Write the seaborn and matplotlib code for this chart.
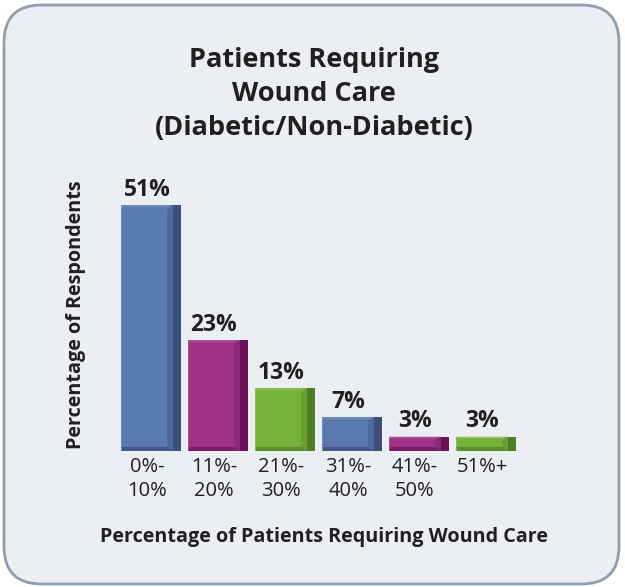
import matplotlib
matplotlib.use("Agg")
import matplotlib.pyplot as plt
from matplotlib.patches import FancyBboxPatch, Polygon, Rectangle
import seaborn as sns
import pandas as pd

# Chart data
categories = ["0%-\n10%", "11%-\n20%", "21%-\n30%", "31%-\n40%", "41%-\n50%", "51%+"]
values = [51, 23, 13, 7, 3, 3]
value_labels = ["51%", "23%", "13%", "7%", "3%", "3%"]

title = "Patients Requiring\nWound Care\n(Diabetic/Non-Diabetic)"
ylabel = "Percentage of Respondents"
xlabel = "Percentage of Patients Requiring Wound Care"

# Face / bevel / side / highlight / shadow shades for the three bar colours
palette = {
    "blue": ("#5A79AE", "#4D6A9E", "#3A5078", "#7E98C4", "#44598A"),
    "magenta": ("#A03285", "#8E2977", "#6A1156", "#BA5AA2", "#7A1D64"),
    "green": ("#77B23B", "#68A033", "#4C7F24", "#98C865", "#5A8E2A"),
}
color_cycle = ["blue", "magenta", "green", "blue", "magenta", "green"]

sns.set_theme(style="white")
plt.rcParams["font.family"] = ["Open Sans", "DejaVu Sans"]
TEXT = "#231F20"
BG = "#EBEFF3"

W, H = 625, 587
fig = plt.figure(figsize=(W / 100, H / 100), dpi=100, facecolor="white")

# Rounded card behind the chart
card = FancyBboxPatch((4 / W, 3 / H), 615 / W, 579 / H,
                      boxstyle="round,pad=0,rounding_size=0.06",
                      transform=fig.transFigure, facecolor=BG,
                      edgecolor="#8E9EAD", linewidth=2.0,
                      mutation_aspect=W / H, zorder=-10)
fig.patches.append(card)

# Axes: 67 px per category, baseline at y=451 px, 4.82 px per percent
step = 67
left_px = 147 - step / 2
base_px = 451
ymax = 60
ax_h = ymax * 4.82
ax = fig.add_axes([left_px / W, (H - base_px) / H, 6 * step / W, ax_h / H])
ax.set_facecolor("none")

df = pd.DataFrame({"cat": categories, "val": values, "col": color_cycle})
front_w = 52 / step
side_w = 8 / step
sns.barplot(data=df, x="cat", y="val", hue="col", dodge=False,
            palette={k: v[0] for k, v in palette.items()},
            width=front_w, legend=False, ax=ax, linewidth=0,
            saturation=1)

ax.set_xlim(-0.5, 5.5)
ax.set_ylim(0, ymax)

px_x = 1 / step
px_y = 1 / 4.82
for bar in list(ax.patches):
    x0 = bar.get_x()
    w = bar.get_width()
    h = bar.get_height()
    if h <= 0:
        continue
    x1 = x0 + w
    i = int(round(x0 + w / 2))
    face, bevel, side, light, dark = palette[color_cycle[i]]
    bev = 6 * px_x
    bh = min(4 * px_y, h / 3)
    # right-hand side face
    ax.add_patch(Rectangle((x1, 0), side_w, h, facecolor=side,
                           edgecolor="none", zorder=3))
    # right bevel strip on the front face
    ax.add_patch(Polygon([(x1 - bev, bh), (x1, 0), (x1, h), (x1 - bev, h - bh)],
                         closed=True, facecolor=bevel, edgecolor="none", zorder=3))
    # bottom bevel
    ax.add_patch(Polygon([(x0, 0), (x1, 0), (x1 - bev, bh), (x0 + 1 * px_x, bh)],
                         closed=True, facecolor=dark, edgecolor="none", zorder=3))
    # top highlight
    ax.add_patch(Polygon([(x0, h), (x1, h), (x1 - bev, h - bh * 0.5),
                          (x0 + 1 * px_x, h - bh * 0.5)],
                         closed=True, facecolor=light, edgecolor="none",
                         alpha=0.6, zorder=3))
    # left highlight line
    ax.add_patch(Rectangle((x0, 0), 1.2 * px_x, h, facecolor=light,
                           edgecolor="none", alpha=0.6, zorder=3))

for i, (v, lab) in enumerate(zip(values, value_labels)):
    ax.annotate(lab, (i, v), xytext=(0, 2.5), textcoords="offset points",
                ha="center", va="bottom", fontsize=16.5, fontweight="bold",
                color=TEXT)

sns.despine(ax=ax, left=True, bottom=True)
ax.set_yticks([])
ax.tick_params(axis="x", length=0, pad=4)
ax.set_xticks(range(len(categories)))
ax.set_xticklabels(categories, fontsize=14.5, color=TEXT, linespacing=1.3, va="top")
ax.set_xlabel("")
ax.set_ylabel("")

fig.text(314 / W, 1 - 94 / H, title, ha="center", va="center",
         fontsize=19.5, fontweight="bold", color=TEXT, linespacing=1.38)
fig.text(76 / W, 1 - 315 / H, ylabel, ha="center", va="center", rotation=90,
         fontsize=14.2, fontweight="bold", color=TEXT)
fig.text(324 / W, 1 - 537 / H, xlabel, ha="center", va="center",
         fontsize=14.2, fontweight="bold", color=TEXT)

fig.savefig("out.png", dpi=100, facecolor="white")
